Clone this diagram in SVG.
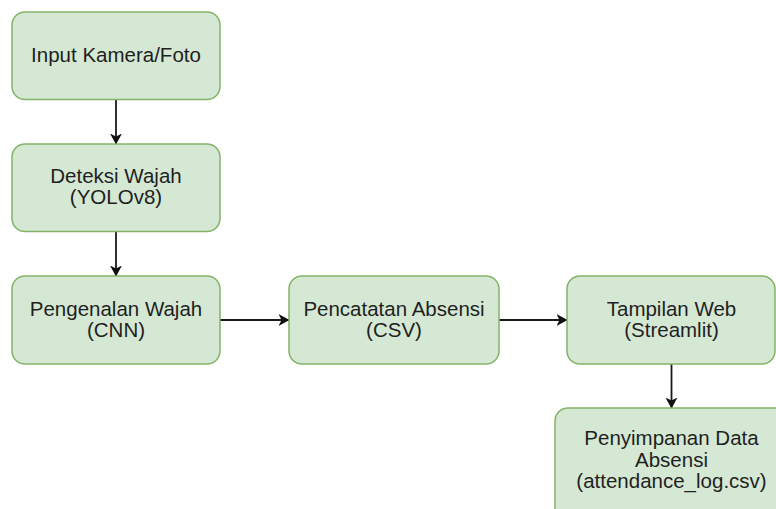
<svg xmlns="http://www.w3.org/2000/svg" width="776" height="509" viewBox="0 0 776 509">
<defs>
<style>
.box{fill:#d5e8d4;stroke:#82b366;stroke-width:1.5}
.t{font-family:"Liberation Sans",Arial,sans-serif;font-size:20.5px;fill:#1f1f1f;text-anchor:middle}
.e{stroke:#1a1a1a;stroke-width:1.8;fill:none;marker-end:url(#arr)}
</style>
<marker id="arr" viewBox="0 0 11 12" refX="10.5" refY="6" markerWidth="11" markerHeight="12" markerUnits="userSpaceOnUse" orient="auto">
<path d="M0,0 L11,6 L0,12 L3,6 Z" fill="#111"/>
</marker>
</defs>
<rect width="776" height="509" fill="#ffffff"/>
<g id="connectors">
<line class="e" x1="116" y1="99.5" x2="116" y2="144"/>
<line class="e" x1="116" y1="231.5" x2="116" y2="276"/>
<line class="e" x1="220" y1="320" x2="289" y2="320"/>
<line class="e" x1="499" y1="320" x2="567" y2="320"/>
<line class="e" x1="671.5" y1="364" x2="671.5" y2="408"/>
</g>
<g id="n1"><rect class="box" x="12" y="12" width="208" height="87.5" rx="13"/><text class="t" x="116" y="62">Input Kamera/Foto</text></g>
<g id="n2"><rect class="box" x="12" y="144" width="208" height="87.5" rx="13"/><text class="t" x="116" y="183">Deteksi Wajah</text><text class="t" x="116" y="204">(YOLOv8)</text></g>
<g id="n3"><rect class="box" x="12" y="276" width="208" height="88" rx="13"/><text class="t" x="116" y="316">Pengenalan Wajah</text><text class="t" x="116" y="337">(CNN)</text></g>
<g id="n4"><rect class="box" x="289" y="276" width="210" height="88" rx="13"/><text class="t" x="394" y="316">Pencatatan Absensi</text><text class="t" x="394" y="337">(CSV)</text></g>
<g id="n5"><rect class="box" x="567" y="276" width="208" height="88" rx="13"/><text class="t" x="671.5" y="316">Tampilan Web</text><text class="t" x="671.5" y="337">(Streamlit)</text></g>
<g id="n6"><rect class="box" x="555" y="408" width="233" height="120" rx="13"/><text class="t" x="671.5" y="445">Penyimpanan Data</text><text class="t" x="671.5" y="467">Absensi</text><text class="t" x="671.5" y="488">(attendance_log.csv)</text></g>
</svg>
